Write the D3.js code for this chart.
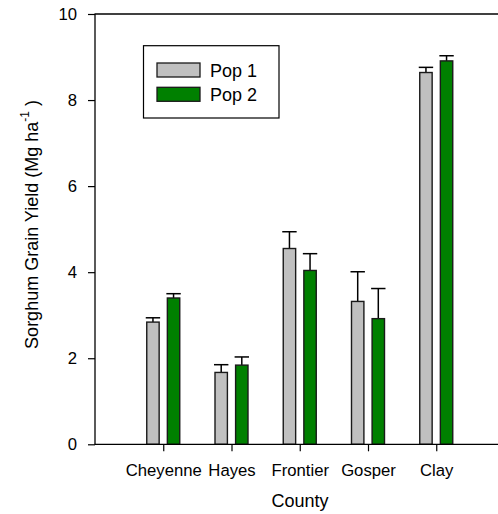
<!DOCTYPE html>
<html><head><meta charset="utf-8">
<script src="https://cdn.jsdelivr.net/npm/d3@7"></script>
<style>body{margin:0;background:#fff}svg{display:block}text{font-family:"Liberation Sans",Arial,sans-serif}</style>
</head><body>
<script>
const counties = ["Cheyenne","Hayes","Frontier","Gosper","Clay"];
const seriesNames = ["Pop 1","Pop 2"];
const pop1 = [2.84, 1.67, 4.55, 3.32, 8.64];
const pop1Err = [0.10, 0.18, 0.39, 0.69, 0.12];
const pop2 = [3.40, 1.84, 4.04, 2.92, 8.91];
const pop2Err = [0.10, 0.19, 0.39, 0.70, 0.12];
const yTicks = [0,2,4,6,8,10];
const colors = ["#c0c0c0","#008000"];

const W=498,H=514;
const svg=d3.select("body").append("svg").attr("width",W).attr("height",H);
const y=d3.scaleLinear().domain([0,10]).range([444.3,14]);
const x=d3.scalePoint().domain(counties).range([95,504.5]).padding(1);
const xi=d3.scaleBand().domain(seriesNames).range([-16.5,16.5]).paddingInner(0.398);
const fs=16.7, fsT=18;

const data=[];
counties.forEach((c,i)=>{
  data.push({c,s:"Pop 1",v:pop1[i],e:pop1Err[i],col:colors[0]});
  data.push({c,s:"Pop 2",v:pop2[i],e:pop2Err[i],col:colors[1]});
});

// error bars
const eb=svg.append("g").attr("stroke","#000").attr("stroke-width",1.5);
data.forEach(d=>{
  const cx=x(d.c)+xi(d.s)+xi.bandwidth()/2;
  eb.append("line").attr("x1",cx).attr("x2",cx).attr("y1",y(d.v)).attr("y2",y(d.v+d.e));
  eb.append("line").attr("x1",cx-7.2).attr("x2",cx+7.2).attr("y1",y(d.v+d.e)).attr("y2",y(d.v+d.e));
});
// bars
svg.append("g").selectAll("rect").data(data).join("rect")
  .attr("x",d=>x(d.c)+xi(d.s)).attr("width",xi.bandwidth())
  .attr("y",d=>y(d.v)).attr("height",d=>y(0)-y(d.v))
  .attr("fill",d=>d.col).attr("stroke","#1a1a1a").attr("stroke-width",1.4);

// axes
const ya=svg.append("g").attr("transform","translate(95,0)")
  .call(d3.axisLeft(y).tickValues(yTicks).tickSize(7).tickPadding(11).tickSizeOuter(0));
ya.select(".domain").remove();
ya.selectAll("line").attr("stroke","#000").attr("stroke-width",1.2);
ya.selectAll("text").attr("font-size",fs).attr("fill","#000").style("font-family","Liberation Sans, Arial, sans-serif");

const xa=svg.append("g").attr("transform","translate(0,444.3)")
  .call(d3.axisBottom(x).tickSize(7).tickPadding(12.5).tickSizeOuter(0));
xa.select(".domain").remove();
xa.selectAll("line").attr("stroke","#000").attr("stroke-width",1.2);
xa.selectAll("text").attr("font-size",fs).attr("fill","#000").style("font-family","Liberation Sans, Arial, sans-serif");

const fr=svg.append("g").attr("stroke","#000").attr("stroke-width",1.3);
fr.append("line").attr("x1",95).attr("x2",95).attr("y1",y(0)).attr("y2",y(10));
fr.append("line").attr("x1",94.5).attr("x2",498).attr("y1",y(0)).attr("y2",y(0));
fr.append("line").attr("x1",94.5).attr("x2",498).attr("y1",y(10)).attr("y2",y(10));

// titles
svg.append("text").attr("x",300).attr("y",506.7).attr("text-anchor","middle").attr("font-size",fsT).text("County");
const yt=svg.append("text").attr("transform","translate(37.5,224.5) rotate(-90)").attr("text-anchor","middle").attr("font-size",fsT);
yt.append("tspan").text("Sorghum Grain Yield (Mg ha");
yt.append("tspan").attr("font-size",12).attr("dy",-9).text("-1");
yt.append("tspan").attr("dy",9).text(" )");

// legend
const lg=svg.append("g");
lg.append("rect").attr("x",143.5).attr("y",45.7).attr("width",135.5).attr("height",72.3).attr("fill","#fff").attr("stroke","#000").attr("stroke-width",1.2);
seriesNames.forEach((s,i)=>{
  lg.append("rect").attr("x",157).attr("y",63+i*24.3).attr("width",43).attr("height",14).attr("fill",colors[i]).attr("stroke","#1a1a1a").attr("stroke-width",1.3);
  lg.append("text").attr("x",210).attr("y",76.7+i*24.3).attr("font-size",fsT).text(s);
});
</script>
</body></html>
